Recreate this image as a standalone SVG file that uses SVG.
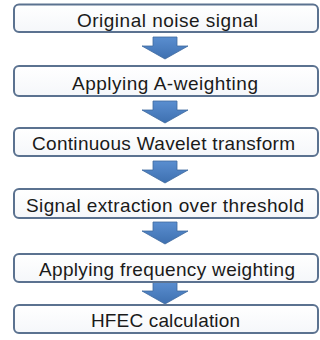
<svg xmlns="http://www.w3.org/2000/svg" width="320" height="340" viewBox="0 0 320 340">
<style>
.box{fill:url(#bg);stroke:#5B7290;stroke-width:2}
.lbl{font-family:"Liberation Sans",Arial,sans-serif;font-size:19px;fill:#1a1a1a;text-anchor:middle}
.arr{fill:url(#ag);stroke:#3F6A9E;stroke-width:0.8}
</style>
<defs>
<linearGradient id="bg" x1="0" y1="0" x2="0" y2="1">
<stop offset="0" stop-color="#FFFFFF"/><stop offset="1" stop-color="#F5F7FA"/>
</linearGradient>
<linearGradient id="ag" x1="0" y1="0" x2="0" y2="1">
<stop offset="0" stop-color="#5A8ED0"/><stop offset="1" stop-color="#3E70B0"/>
</linearGradient>
<path id="arrow" d="M-12,0 H12 V9 H23 L0,22 L-23,9 H-12 Z"/>
</defs>
<rect width="320" height="340" fill="#fff"/>
<g id="connectors">
<use href="#arrow" class="arr" transform="translate(165,37)"/>
<use href="#arrow" class="arr" transform="translate(165,101)"/>
<use href="#arrow" class="arr" transform="translate(165,161)"/>
<use href="#arrow" class="arr" transform="translate(165,222)"/>
<use href="#arrow" class="arr" transform="translate(165,282)"/>
</g>
<g id="n1"><rect class="box" x="14" y="4.5" width="304" height="27.5" rx="5"/><text class="lbl" x="167.5" y="27" textLength="181">Original noise signal</text></g>
<g id="n2"><rect class="box" x="14" y="66" width="304" height="30" rx="5"/><text class="lbl" x="165" y="90" textLength="186">Applying A-weighting</text></g>
<g id="n3"><rect class="box" x="14" y="128" width="304" height="28" rx="5"/><text class="lbl" x="163.5" y="150" textLength="263">Continuous Wavelet transform</text></g>
<g id="n4"><rect class="box" x="14" y="189" width="304" height="29" rx="5"/><text class="lbl" x="165" y="212" textLength="278">Signal extraction over threshold</text></g>
<g id="n5"><rect class="box" x="14" y="254" width="304" height="28" rx="5"/><text class="lbl" x="167" y="276" textLength="256">Applying frequency weighting</text></g>
<g id="n6"><rect class="box" x="14" y="305" width="304" height="28" rx="5"/><text class="lbl" x="165.5" y="327" textLength="149">HFEC calculation</text></g>
</svg>
